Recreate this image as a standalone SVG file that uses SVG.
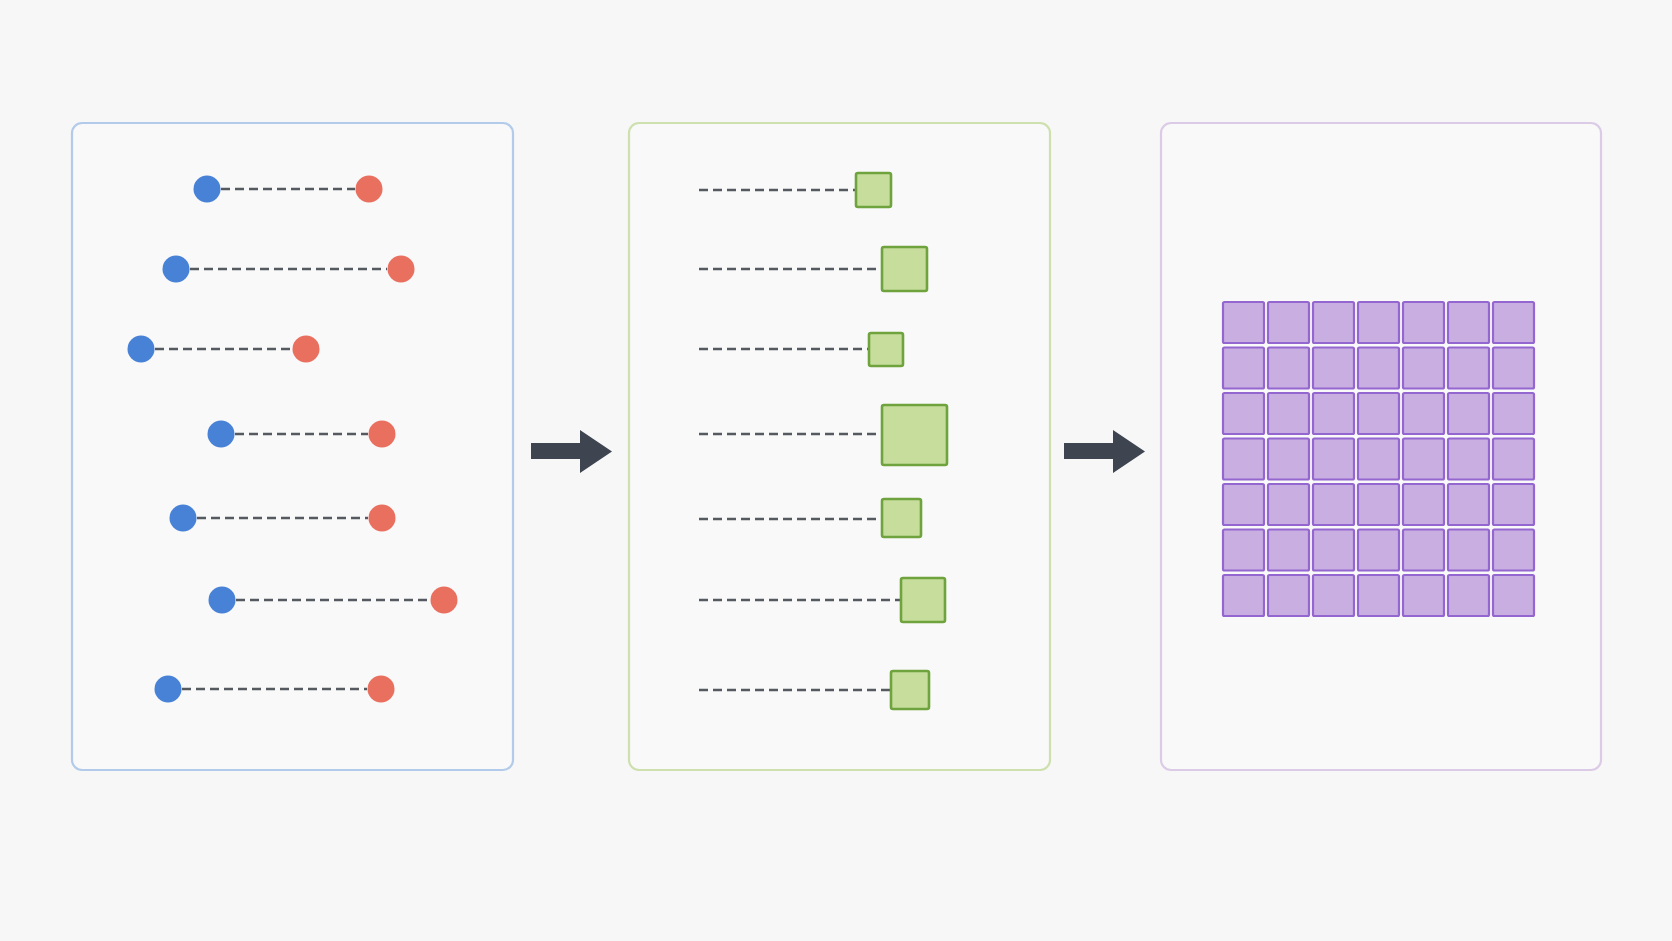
<svg xmlns="http://www.w3.org/2000/svg" width="1672" height="941" viewBox="0 0 1672 941">
<defs>
<style>
.panel{fill:#f9f9f9;stroke-width:2.2}
.p1{stroke:#b3cbea}.p2{stroke:#cde0ad}.p3{stroke:#dccbe6}
.dash{stroke:#555a60;stroke-width:2.6;stroke-dasharray:9 5;fill:none}
.blue{fill:#4782d6}.red{fill:#e9705f}
.sq{fill:#c6dd9c;stroke:#6fa33d;stroke-width:2.6}
.cell{fill:#c9aee2;stroke:#9466cf;stroke-width:2.2}
.arrow{fill:#3e4550}
</style>
</defs>
<rect width="1672" height="941" fill="#f7f7f7"/>
<g id="panel-pairs">
<rect class="panel p1" x="72" y="123" width="441" height="647" rx="10"/>
</g>
<g id="panel-boxes">
<rect class="panel p2" x="629" y="123" width="421" height="647" rx="10"/>
</g>
<g id="panel-grid">
<rect class="panel p3" x="1161" y="123" width="440" height="647" rx="10"/>
</g>
<g id="connectors">
<line class="dash" x1="221" y1="189" x2="355" y2="189"/>
<line class="dash" x1="190" y1="269" x2="387" y2="269"/>
<line class="dash" x1="155" y1="349" x2="292" y2="349"/>
<line class="dash" x1="235" y1="434" x2="368" y2="434"/>
<line class="dash" x1="197" y1="518" x2="368" y2="518"/>
<line class="dash" x1="236" y1="600" x2="430" y2="600"/>
<line class="dash" x1="182" y1="689" x2="367" y2="689"/>
<line class="dash" x1="699" y1="190" x2="855" y2="190"/>
<line class="dash" x1="699" y1="269" x2="881" y2="269"/>
<line class="dash" x1="699" y1="349" x2="869" y2="349"/>
<line class="dash" x1="699" y1="434" x2="881" y2="434"/>
<line class="dash" x1="699" y1="519" x2="881" y2="519"/>
<line class="dash" x1="699" y1="600" x2="900" y2="600"/>
<line class="dash" x1="699" y1="690" x2="890" y2="690"/>
<path class="arrow" d="M531 443 H580 V430 L612 451.5 L580 473 V459 H531 Z"/>
<path class="arrow" d="M1064 443 H1113 V430 L1145 451.5 L1113 473 V459 H1064 Z"/>
</g>
<g id="pairs">
<circle class="blue" cx="207" cy="189" r="13.5"/><circle class="red" cx="369" cy="189" r="13.5"/>
<circle class="blue" cx="176" cy="269" r="13.5"/><circle class="red" cx="401" cy="269" r="13.5"/>
<circle class="blue" cx="141" cy="349" r="13.5"/><circle class="red" cx="306" cy="349" r="13.5"/>
<circle class="blue" cx="221" cy="434" r="13.5"/><circle class="red" cx="382" cy="434" r="13.5"/>
<circle class="blue" cx="183" cy="518" r="13.5"/><circle class="red" cx="382" cy="518" r="13.5"/>
<circle class="blue" cx="222" cy="600" r="13.5"/><circle class="red" cx="444" cy="600" r="13.5"/>
<circle class="blue" cx="168" cy="689" r="13.5"/><circle class="red" cx="381" cy="689" r="13.5"/>
</g>
<g id="boxes">
<rect class="sq" x="856" y="173" width="35" height="34" rx="2"/>
<rect class="sq" x="882" y="247" width="45" height="44" rx="2"/>
<rect class="sq" x="869" y="333" width="34" height="33" rx="2"/>
<rect class="sq" x="882" y="405" width="65" height="60" rx="2"/>
<rect class="sq" x="882" y="499" width="39" height="38" rx="2"/>
<rect class="sq" x="901" y="578" width="44" height="44" rx="2"/>
<rect class="sq" x="891" y="671" width="38" height="38" rx="2"/>
</g>
<g id="grid">
<g id="row1"><rect class="cell" x="1223" y="302" width="41" height="41" rx="1.5"/><rect class="cell" x="1268" y="302" width="41" height="41" rx="1.5"/><rect class="cell" x="1313" y="302" width="41" height="41" rx="1.5"/><rect class="cell" x="1358" y="302" width="41" height="41" rx="1.5"/><rect class="cell" x="1403" y="302" width="41" height="41" rx="1.5"/><rect class="cell" x="1448" y="302" width="41" height="41" rx="1.5"/><rect class="cell" x="1493" y="302" width="41" height="41" rx="1.5"/></g>
<g id="row2"><rect class="cell" x="1223" y="347.5" width="41" height="41" rx="1.5"/><rect class="cell" x="1268" y="347.5" width="41" height="41" rx="1.5"/><rect class="cell" x="1313" y="347.5" width="41" height="41" rx="1.5"/><rect class="cell" x="1358" y="347.5" width="41" height="41" rx="1.5"/><rect class="cell" x="1403" y="347.5" width="41" height="41" rx="1.5"/><rect class="cell" x="1448" y="347.5" width="41" height="41" rx="1.5"/><rect class="cell" x="1493" y="347.5" width="41" height="41" rx="1.5"/></g>
<g id="row3"><rect class="cell" x="1223" y="393" width="41" height="41" rx="1.5"/><rect class="cell" x="1268" y="393" width="41" height="41" rx="1.5"/><rect class="cell" x="1313" y="393" width="41" height="41" rx="1.5"/><rect class="cell" x="1358" y="393" width="41" height="41" rx="1.5"/><rect class="cell" x="1403" y="393" width="41" height="41" rx="1.5"/><rect class="cell" x="1448" y="393" width="41" height="41" rx="1.5"/><rect class="cell" x="1493" y="393" width="41" height="41" rx="1.5"/></g>
<g id="row4"><rect class="cell" x="1223" y="438.5" width="41" height="41" rx="1.5"/><rect class="cell" x="1268" y="438.5" width="41" height="41" rx="1.5"/><rect class="cell" x="1313" y="438.5" width="41" height="41" rx="1.5"/><rect class="cell" x="1358" y="438.5" width="41" height="41" rx="1.5"/><rect class="cell" x="1403" y="438.5" width="41" height="41" rx="1.5"/><rect class="cell" x="1448" y="438.5" width="41" height="41" rx="1.5"/><rect class="cell" x="1493" y="438.5" width="41" height="41" rx="1.5"/></g>
<g id="row5"><rect class="cell" x="1223" y="484" width="41" height="41" rx="1.5"/><rect class="cell" x="1268" y="484" width="41" height="41" rx="1.5"/><rect class="cell" x="1313" y="484" width="41" height="41" rx="1.5"/><rect class="cell" x="1358" y="484" width="41" height="41" rx="1.5"/><rect class="cell" x="1403" y="484" width="41" height="41" rx="1.5"/><rect class="cell" x="1448" y="484" width="41" height="41" rx="1.5"/><rect class="cell" x="1493" y="484" width="41" height="41" rx="1.5"/></g>
<g id="row6"><rect class="cell" x="1223" y="529.5" width="41" height="41" rx="1.5"/><rect class="cell" x="1268" y="529.5" width="41" height="41" rx="1.5"/><rect class="cell" x="1313" y="529.5" width="41" height="41" rx="1.5"/><rect class="cell" x="1358" y="529.5" width="41" height="41" rx="1.5"/><rect class="cell" x="1403" y="529.5" width="41" height="41" rx="1.5"/><rect class="cell" x="1448" y="529.5" width="41" height="41" rx="1.5"/><rect class="cell" x="1493" y="529.5" width="41" height="41" rx="1.5"/></g>
<g id="row7"><rect class="cell" x="1223" y="575" width="41" height="41" rx="1.5"/><rect class="cell" x="1268" y="575" width="41" height="41" rx="1.5"/><rect class="cell" x="1313" y="575" width="41" height="41" rx="1.5"/><rect class="cell" x="1358" y="575" width="41" height="41" rx="1.5"/><rect class="cell" x="1403" y="575" width="41" height="41" rx="1.5"/><rect class="cell" x="1448" y="575" width="41" height="41" rx="1.5"/><rect class="cell" x="1493" y="575" width="41" height="41" rx="1.5"/></g>
</g>
</svg>
